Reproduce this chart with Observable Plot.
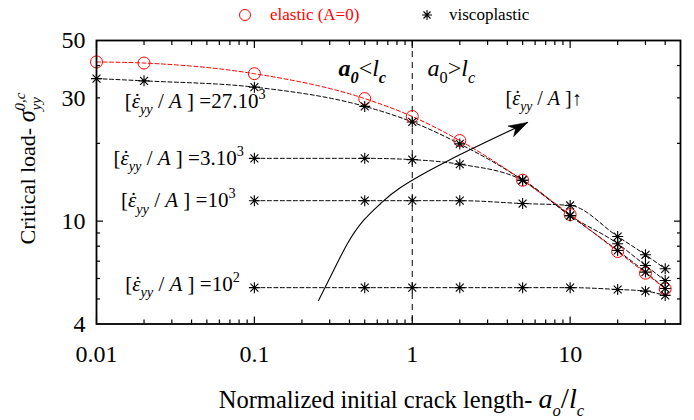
<!DOCTYPE html>
<html>
<head>
<meta charset="utf-8">
<script src="https://cdn.jsdelivr.net/npm/d3@7"></script>
<script src="https://cdn.jsdelivr.net/npm/@observablehq/plot@0.6"></script>
<style>
  body { margin: 0; background: #fff; font-family: "Liberation Serif", "Times New Roman", serif; }
  #legend { position: relative; width: 694px; height: 24px; font-size: 17px; line-height: 24px; }
  #legend .item { position: absolute; top: 3px; white-space: nowrap; }
  #legend svg { position: absolute; top: 8px; }
  #chart svg text { font-family: "Liberation Serif", "Times New Roman", serif; }
</style>
</head>
<body>
<div id="legend">
  <svg style="left:238px" width="14" height="14" viewBox="-7 -7 14 14"><circle r="5.5" fill="none" stroke="#ff0000" stroke-width="1"/></svg>
  <span class="item" style="left:270px;color:#ff0000">elastic (A=0)</span>
  <svg style="left:421px" width="12" height="14" viewBox="-6 -7 12 14"><path d="M-5,0H5M0,-5V5M-3.5,-3.5L3.5,3.5M-3.5,3.5L3.5,-3.5" stroke="#000" stroke-width="1.1"/></svg>
  <span class="item" style="left:449px;color:#000">viscoplastic</span>
</div>
<div id="chart"></div>
<script>
// ---- data ----
const crackLength = [0.01, 0.02, 0.1, 0.5, 1, 2, 5, 10, 20, 30, 40];
const elastic     = [41.3, 40.9, 37.2, 29.8, 25.4, 20.5, 14.4, 10.6, 7.63, 6.29, 5.47];
const visc27k     = [35.6, 34.9, 33.0, 27.8, 24.2, 19.9, 14.4, 10.5, 7.7, 6.35, 5.49];

const rateLength  = [0.1, 0.5, 1, 2, 5, 10, 20, 30, 40];
const visc3k      = [17.5, 17.5, 17.3, 16.6, 14.4, 10.5, 8.18, 6.74, 5.89];
const visc1k      = [12.0, 12.0, 12.0, 12.0, 11.7, 11.5, 8.72, 7.41, 6.54];
const visc100     = [5.53, 5.53, 5.53, 5.53, 5.53, 5.53, 5.44, 5.36, 5.16];

const xLabelTicks = [0.01, 0.1, 1, 10, 50];
const yLabelTicks = [4, 10, 30, 50];
const xMajorTicks = [0.01, 0.1, 1, 10];
const xMinorTicks = [0.02,0.03,0.04,0.05,0.06,0.07,0.08,0.09,0.2,0.3,0.4,0.5,0.6,0.7,0.8,0.9,2,3,4,5,6,7,8,9,20,30,40];
const yMajorTicks = [10];
const yMinorTicks = [5,6,7,8,9,20,30,40];

// rate labels (right-aligned, data coordinates)
const rateLabelText = ["[ε̇yy/A] =27.10³", "[ε̇yy/A] =3.10³", "[ε̇yy/A] =10³", "[ε̇yy/A] =10²"];
const rateLabelX    = [0.1177, 0.0857, 0.076, 0.0809];
const rateLabelY    = [29.1, 17.5, 12.0, 5.69];

// region labels
const regionText = ["a0<lc", "a0>lc"];
const regionX    = [0.341, 1.25];
const regionY    = [39.0, 39.0];

// increasing-rate arrow path (data coordinates)
const arrowX = [0.2549, 0.3172, 0.3891, 0.4914, 0.6298, 0.8432, 1.698, 5.375];
const arrowY = [4.93, 6.44, 8.2, 10.06, 11.7, 13.5, 17.18, 24.1];
const arrowLabelText = "[ε̇yy/A]↑";
const arrowLabelX = 3.9, arrowLabelY = 29.9;

const xTitle = "Normalized initial crack length- ao/lc";
const yTitle = "Critical load- σyy0,c";

// ---- rich text definitions (sub/superscripts, dot accent) ----
const epsDot = [{t: "ε", i: 1}, {t: "˙", over: 1}, {t: "yy", i: 1, sub: 1}];
const rateParts = (m, e) => [
  {t: "["}, ...epsDot, {t: " / "}, {t: "A", i: 1}, {t: " ] =" + m}, {t: e, sup: 1}
];
const richMap = new Map([
  [rateLabelText[0], rateParts("27.10", "3")],
  [rateLabelText[1], rateParts("3.10", "3")],
  [rateLabelText[2], rateParts("10", "3")],
  [rateLabelText[3], rateParts("10", "2")],
  [regionText[0], [{t: "a", i: 1, b: 1}, {t: "0", i: 1, b: 1, sub: 1}, {t: "<"}, {t: "l", i: 1}, {t: "c", i: 1, b: 1, sub: 1}]],
  [regionText[1], [{t: "a", i: 1}, {t: "0", sub: 1}, {t: ">"}, {t: "l", i: 1}, {t: "c", i: 1, sub: 1}]],
  [arrowLabelText, [{t: "["}, ...epsDot, {t: " / "}, {t: "A", i: 1}, {t: " ]"}, {t: "↑"}]],
  [xTitle, [{t: "Normalized initial crack length- "}, {t: "a", i: 1, fs: 1.15}, {t: "o", i: 1, sub: 1}, {t: "/", fs: 1.2}, {t: "l", i: 1, fs: 1.15}, {t: "c", i: 1, sub: 1}]],
  [yTitle, [{t: "Critical load- "}, {t: "σ", i: 1, fs: 1.1}, {t: "yy", i: 1, sub: 1}, {t: "0,c", i: 1, sup: 1, back: 1}]]
]);

// ---- tables for the library ----
const curves = [
  ...crackLength.map((x, i) => ({x, y: visc27k[i], s: "27k"})),
  ...rateLength.map((x, i) => ({x, y: visc3k[i], s: "3k"})),
  ...rateLength.map((x, i) => ({x, y: visc1k[i], s: "1k"})),
  ...rateLength.map((x, i) => ({x, y: visc100[i], s: "100"}))
];
const elasticRows = crackLength.map((x, i) => ({x, y: elastic[i]}));
const rateLabels = rateLabelText.map((t, i) => ({t, x: rateLabelX[i], y: rateLabelY[i]}));
const regionLabels = regionText.map((t, i) => ({t, x: regionX[i], y: regionY[i]}));
const arrowRows = arrowX.map((x, i) => ({x, y: arrowY[i]}));
const arrowTip = [{x: arrowX[arrowX.length - 1], y: arrowY[arrowY.length - 1]}];

// custom symbols
const asterisk = {
  draw(ctx, size) {
    const r = Math.sqrt(size / Math.PI), d = r * 0.72;
    ctx.moveTo(-r, 0); ctx.lineTo(r, 0);
    ctx.moveTo(0, -r); ctx.lineTo(0, r);
    ctx.moveTo(-d, -d); ctx.lineTo(d, d);
    ctx.moveTo(-d, d); ctx.lineTo(d, -d);
  }
};
const arrowHead = {
  draw(ctx, size) {
    const r = Math.sqrt(size / Math.PI);
    const L = r * 1.9, w = r * 0.6;
    ctx.moveTo(0, 0); ctx.lineTo(w, L); ctx.lineTo(0, L * 0.72); ctx.lineTo(-w, L); ctx.closePath();
  }
};

const serif = "'Liberation Serif', 'Times New Roman', serif";
const fmt = d3.format("~g");
const plot = Plot.plot({
  width: 694, height: 396,
  marginTop: 16, marginRight: 14, marginBottom: 96.5, marginLeft: 96,
  x: {type: "log", domain: [0.01, 50]},
  y: {type: "log", domain: [4, 50]},
  style: {fontFamily: serif, fontSize: "24px", background: "white", color: "black"},
  marks: [
    // axes: labels
    Plot.axisX(xLabelTicks, {anchor: "bottom", tickSize: 0, tickPadding: 21, tickFormat: fmt, label: null, fontSize: 24}),
    Plot.axisY(yLabelTicks, {anchor: "left", tickSize: 0, tickPadding: 11, tickFormat: fmt, label: null, fontSize: 24}),
    // inward ticks on all sides
    Plot.axisX(xMajorTicks, {anchor: "bottom", tickSize: -7, tickFormat: () => "", label: null, strokeWidth: 1.2}),
    Plot.axisX(xMinorTicks, {anchor: "bottom", tickSize: -4, tickFormat: () => "", label: null, strokeWidth: 1.2}),
    Plot.axisX(xMajorTicks, {anchor: "top", tickSize: -7, tickFormat: () => "", label: null, strokeWidth: 1.2}),
    Plot.axisX(xMinorTicks, {anchor: "top", tickSize: -4, tickFormat: () => "", label: null, strokeWidth: 1.2}),
    Plot.axisY(yMajorTicks, {anchor: "left", tickSize: -7, tickFormat: () => "", label: null, strokeWidth: 1.2}),
    Plot.axisY(yMinorTicks, {anchor: "left", tickSize: -4, tickFormat: () => "", label: null, strokeWidth: 1.2}),
    Plot.axisY(yMajorTicks, {anchor: "right", tickSize: -7, tickFormat: () => "", label: null, strokeWidth: 1.2}),
    Plot.axisY(yMinorTicks, {anchor: "right", tickSize: -4, tickFormat: () => "", label: null, strokeWidth: 1.2}),
    // a0 = lc divider
    Plot.ruleX([1], {stroke: "black", strokeWidth: 1, strokeDasharray: "6,5"}),
    // viscoplastic curves
    Plot.line(curves, {x: "x", y: "y", z: "s", stroke: "black", strokeWidth: 1, strokeDasharray: "4,2.5", curve: "monotone-x"}),
    // elastic curve
    Plot.line(elasticRows, {x: "x", y: "y", stroke: "#ff0000", strokeWidth: 1, strokeDasharray: "4,2.5", curve: "monotone-x"}),
    Plot.dot(elasticRows, {x: "x", y: "y", r: 6, stroke: "#ff0000", strokeWidth: 1, fill: "none"}),
    Plot.dot(curves, {x: "x", y: "y", r: 5.5, symbol: asterisk, stroke: "black", strokeWidth: 1.1, fill: "none"}),
    // rate arrow
    Plot.line(arrowRows, {x: "x", y: "y", curve: "natural", stroke: "black", strokeWidth: 1.1}),
    Plot.dot(arrowTip, {x: "x", y: "y", r: 10, symbol: arrowHead, rotate: 62, fill: "black", stroke: "black", strokeWidth: 0.5}),
    // annotations
    Plot.text(rateLabels, {x: "x", y: "y", text: "t", textAnchor: "end", fontSize: 21, fontFamily: serif}),
    Plot.text(regionLabels, {x: "x", y: "y", text: "t", textAnchor: "start", fontSize: 24, fontFamily: serif}),
    Plot.text([arrowLabelText], {x: arrowLabelX, y: arrowLabelY, text: d => d, textAnchor: "start", fontSize: 20, fontFamily: serif}),
    Plot.text([xTitle], {frameAnchor: "bottom", text: d => d, textAnchor: "middle", lineAnchor: "middle", dx: 13, dy: 76.5, fontSize: 24.5, fontFamily: serif}),
    Plot.text([yTitle], {frameAnchor: "left", text: d => d, textAnchor: "middle", lineAnchor: "middle", dx: -69, dy: -13.75, rotate: -90, fontSize: 22, fontFamily: serif}),
    Plot.frame({stroke: "black", strokeWidth: 1.8})
  ]
});
document.getElementById("chart").appendChild(plot);

// convert plain-text annotations into real text with sub/superscripts
const NS = "http://www.w3.org/2000/svg";
Array.from(plot.querySelectorAll("text")).forEach(t => {
  const key = (t.textContent || "").trim();
  const parts = richMap.get(key);
  if (!parts) return;
  const base = parseFloat(window.getComputedStyle(t).fontSize) || 20;
  while (t.firstChild) t.removeChild(t.firstChild);
  let shift = 0, prev = null, carry = 0;
  for (const p of parts) {
    const s = document.createElementNS(NS, "tspan");
    s.textContent = p.t;
    const target = p.sub ? base * 0.3 : p.sup ? -base * 0.45 : 0;
    if (target !== shift) s.setAttribute("dy", String(target - shift));
    shift = target;
    if (p.sub || p.sup) s.setAttribute("font-size", String(base * 0.68));
    else if (p.fs) s.setAttribute("font-size", String(base * p.fs));
    if (p.i) s.setAttribute("font-style", "italic");
    if (p.b) s.setAttribute("font-weight", "bold");
    t.appendChild(s);
    let dx = carry; carry = 0;
    if (p.back && prev) dx -= prev.getComputedTextLength();
    if (p.over && prev) {
      const we = prev.getComputedTextLength(), wd = s.getComputedTextLength();
      const off = base * 0.07;
      dx += -we / 2 - wd / 2 + off;
      carry = we / 2 - wd / 2 - off;
    }
    if (dx) s.setAttribute("dx", String(dx));
    prev = s;
  }
});
</script>
</body>
</html>
